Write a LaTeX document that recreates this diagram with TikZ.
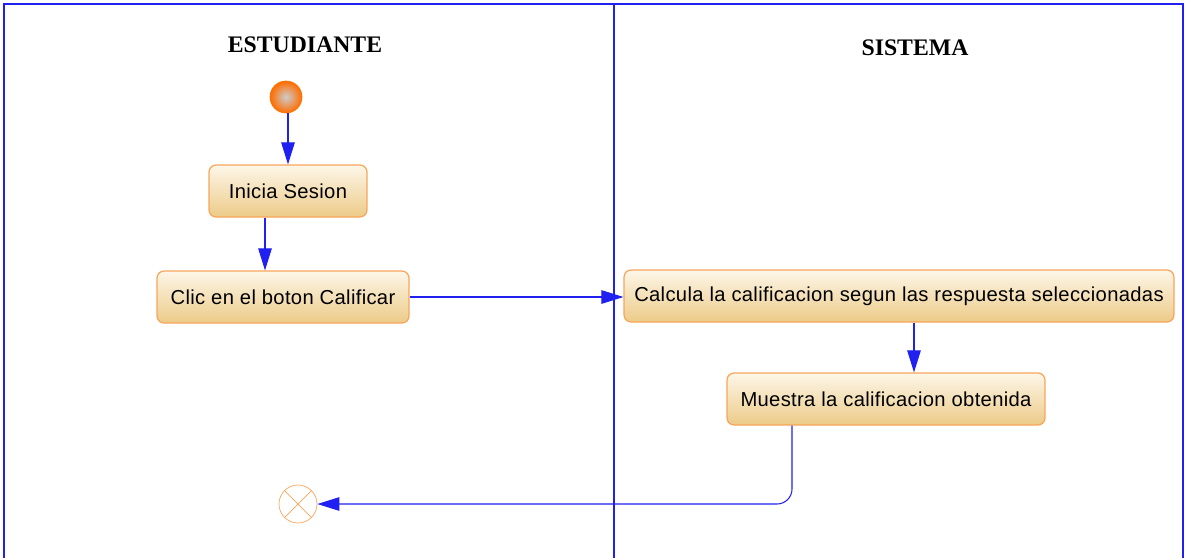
\documentclass[tikz,border=0pt]{standalone}
\usepackage{fontspec}
\setmainfont{Liberation Sans}[LetterSpace=1.6]
\newfontfamily\titulofont{Liberation Serif}
\usetikzlibrary{arrows.meta}
\definecolor{cremaA}{HTML}{FDF6E8}
\definecolor{cremaB}{HTML}{ECCB88}
\definecolor{naranja}{HTML}{F8A55A}
\definecolor{azul}{HTML}{2020F0}

\begin{document}
\begin{tikzpicture}[x=0.02cm, y=-0.02cm, every node/.style={font=\fontsize{11.5}{13}\selectfont},
	accion/.style={draw=naranja, line width=0.7pt, rounded corners=0.14cm, top color=cremaA, bottom color=cremaB, minimum height=1.04cm, inner sep=0pt},
	inicio/.style={circle, draw=orange!90!red, inner color=gray!40, outer color=orange!85!red, minimum size=0.64cm, inner sep=0pt},
	final/.style={circle, draw=naranja, minimum size=0.76cm, inner sep=0pt, path picture={\draw[naranja] (path picture bounding box.north west) -- (path picture bounding box.south east) (path picture bounding box.north east) -- (path picture bounding box.south west);}},
	flujo/.style={draw=azul, line width=0.6pt, -{Triangle[length=0.44cm,width=0.27cm]}},
	carril/.style={draw=azul, line width=0.6pt},
	titulo/.style={font=\titulofont\bfseries\fontsize{13.5}{15}\selectfont}]
			\useasboundingbox (0,0) rectangle (1185,558);
			\draw[carril] (4,558) -- (4,4) -- (1183,4) -- (1183,558);
			\draw[carril] (614,4) -- (614,558);
			\node[titulo] (est) at (305,45) {ESTUDIANTE};
			\node[titulo] (sis) at (915,48) {SISTEMA};
			\node[inicio] (ini) at (286,97) {};
			\node[accion, minimum width=3.16cm] (ses) at (288,191) {Inicia Sesion};
			\node[accion, minimum width=5.04cm] (clic) at (283,297) {Clic en el boton Calificar};
			\node[accion, minimum width=11cm] (calc) at (899,296) {Calcula la calificacion segun las respuesta seleccionadas};
			\node[accion, minimum width=6.36cm] (mue) at (886,399) {Muestra la calificacion obtenida};
			\node[final] (fin) at (298,504) {};
			\coordinate (a) at (288,0);
			\coordinate (b) at (265,0);
			\coordinate (c) at (914,0);
			\coordinate (d) at (792,0);
			\draw[flujo] (ini.south -| a) -- (ses.north -| a);
			\draw[flujo] (ses.south -| b) -- (clic.north -| b);
			\draw[flujo] (clic.east) -- (calc.west |- clic.east);
			\draw[flujo] (calc.south -| c) -- (mue.north -| c);
			\draw[flujo, rounded corners=0.3cm] (mue.south -| d) |- (fin);
		\end{tikzpicture}
\end{document}
